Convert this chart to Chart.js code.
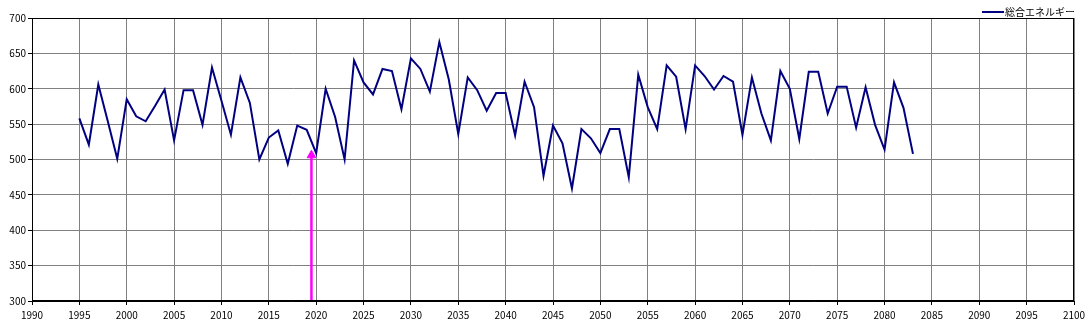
<!DOCTYPE html>
<html>
<head>
<meta charset="utf-8">
<script src="https://cdn.jsdelivr.net/npm/chart.js@4"></script>
<style>
html,body{margin:0;padding:0;background:#fff;}
canvas{display:block;}
</style>
</head>
<body>
<canvas id="c" width="1092" height="329"></canvas>
<script>
const seriesName = '総合エネルギー';
const years = [1995,1996,1997,1998,1999,2000,2001,2002,2003,2004,2005,2006,2007,2008,2009,2010,2011,2012,2013,2014,2015,2016,2017,2018,2019,2020,2021,2022,2023,2024,2025,2026,2027,2028,2029,2030,2031,2032,2033,2034,2035,2036,2037,2038,2039,2040,2041,2042,2043,2044,2045,2046,2047,2048,2049,2050,2051,2052,2053,2054,2055,2056,2057,2058,2059,2060,2061,2062,2063,2064,2065,2066,2067,2068,2069,2070,2071,2072,2073,2074,2075,2076,2077,2078,2079,2080,2081,2082,2083];
const energy = [558,521,606,554,501,585,561,554,576,599,527,598,598,549,630,583,535,616,580,500,531,541,494,548,542,509,600,560,500,640,609,592,628,625,571,643,628,596,666,613,536,616,598,569,594,594,534,610,574,477,548,523,459,543,530,509,543,543,475,620,574,543,633,617,543,633,618,599,618,610,535,616,565,527,625,600,529,624,624,565,603,603,545,602,549,514,609,573,508];
const arrowX = 2019.5;
const arrowBase = 300;
const arrowHead = 506;
const xMin = 1990, xMax = 2100, xStep = 5;
const yMin = 300, yMax = 700, yStep = 50;

const FONT = '"Noto Sans CJK JP", "DejaVu Sans", sans-serif';

const frame = {
  id: 'frame',
  afterDatasetsDraw(chart) {
    const {ctx, chartArea: a} = chart;
    ctx.save();
    ctx.strokeStyle = '#000';
    ctx.lineWidth = 1;
    ctx.strokeRect(Math.round(a.left) + 0.5, Math.round(a.top) + 0.5, Math.round(a.right - a.left) - 1, Math.round(a.bottom - a.top) - 1);
    // legend
    const ly = 12;
    ctx.strokeStyle = '#000080';
    ctx.lineWidth = 2;
    ctx.beginPath();
    ctx.moveTo(982, ly);
    ctx.lineTo(1004, ly);
    ctx.stroke();
    ctx.fillStyle = '#000';
    ctx.font = '10px ' + FONT;
    ctx.textBaseline = 'middle';
    ctx.textAlign = 'left';
    ctx.fillText(seriesName, 1005, ly);
    ctx.restore();
  }
};

new Chart(document.getElementById('c'), {
  type: 'line',
  data: {
    datasets: [
      {
        label: seriesName,
        data: years.map((y, i) => ({x: y, y: energy[i]})),
        borderColor: '#000080',
        borderWidth: 2,
        pointRadius: 0,
        tension: 0,
        fill: false
      },
      {
        label: 'arrow',
        data: [{x: arrowX, y: arrowBase}, {x: arrowX, y: arrowHead}],
        borderColor: '#FF00FF',
        backgroundColor: '#FF00FF',
        borderWidth: 2.5,
        pointRadius: [0, 5],
        pointStyle: 'triangle',
        pointBackgroundColor: '#FF00FF',
        pointBorderColor: '#FF00FF',
        pointBorderWidth: 1,
        tension: 0,
        fill: false,
        clip: false
      }
    ]
  },
  options: {
    responsive: false,
    devicePixelRatio: 1,
    animation: false,
    events: [],
    layout: {padding: {top: 18, right: 18, left: 0, bottom: 0}},
    plugins: {legend: {display: false}, tooltip: {enabled: false}},
    scales: {
      x: {
        type: 'linear',
        min: xMin, max: xMax,
        afterFit(s) { s.height = 28; },
        ticks: {stepSize: xStep, color: '#000', font: {size: 10, family: FONT}, maxRotation: 0, autoSkip: false, padding: 4, callback: v => String(v)},
        grid: {color: '#808080', lineWidth: 1, tickLength: 4, tickColor: '#000'},
        border: {color: '#000', width: 1}
      },
      y: {
        min: yMin, max: yMax,
        afterFit(s) { s.width = 32; },
        ticks: {stepSize: yStep, color: '#000', font: {size: 10, family: FONT}, padding: 2},
        grid: {color: '#808080', lineWidth: 1, tickLength: 4, tickColor: '#000'},
        border: {color: '#000', width: 1}
      }
    }
  },
  plugins: [frame]
});
</script>
</body>
</html>
